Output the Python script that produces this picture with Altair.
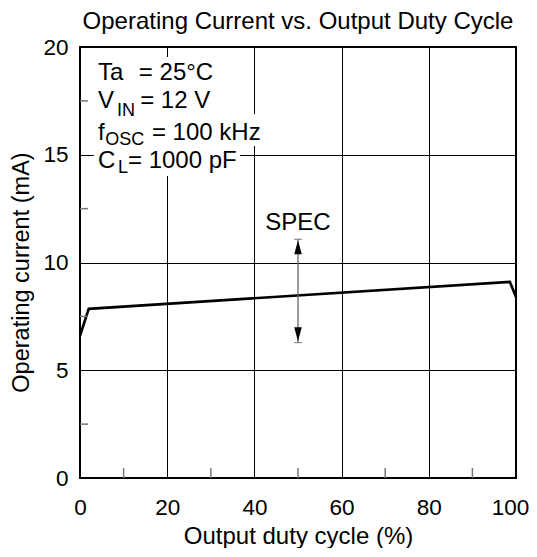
import altair as alt
import pandas as pd

# ---- data ----
duty = [0, 2, 98.6, 100]
current = [6.6, 7.85, 9.1, 8.4]

x_major = [0, 20, 40, 60, 80, 100]
y_major = [0, 5, 10, 15, 20]
x_minor = [10, 30, 50, 70, 90]
y_minor = [2.5, 7.5, 12.5, 17.5]

spec_x = 50
spec_low = 6.28
spec_high = 11.08
spec_arrow_y = [10.70, 6.67]
spec_label_y = 11.51

cond_text = ["Ta", "= 25°C", "V", "IN", "= 12 V", "f", "OSC", "= 100 kHz", "C", "L", "= 1000 pF"]
cond_x = [4.13, 13.5, 4.13, 8.5, 13.8, 4.13, 5.8, 16.5, 4.13, 8.7, 11.0]
cond_y = [18.47, 18.47, 17.18, 16.80, 17.18, 15.68, 15.45, 15.68, 14.39, 14.16, 14.39]
cond_size = [24, 24, 24, 18, 24, 24, 18, 24, 24, 18, 24]

bg_x = [3.2, 3.2, 3.2, 3.2]
bg_x2 = [31.7, 30.7, 41.7, 36.7]
bg_y = [19.54, 18.19, 16.89, 15.41]
bg_y2 = [18.19, 16.89, 15.41, 14.01]

FONT = "Liberation Sans"
W, H = 436, 431

xs = alt.Scale(domain=[0, 100], nice=False, zero=False)
ys = alt.Scale(domain=[0, 20], nice=False, zero=False)

df_line = pd.DataFrame({"duty": duty, "current": current})
df_cond = pd.DataFrame({"duty": cond_x, "current": cond_y, "t": cond_text, "s": cond_size})
df_bg = pd.DataFrame({"duty": bg_x, "x2": bg_x2, "current": bg_y, "y2": bg_y2})
df_xminor = pd.DataFrame({"duty": x_minor})
df_yminor = pd.DataFrame({"current": y_minor})
df_spec = pd.DataFrame({"duty": [spec_x], "current": [spec_low], "hi": [spec_high]})
df_caps = pd.DataFrame({"duty": [spec_x, spec_x], "current": [spec_high, spec_low]})
df_up = pd.DataFrame({"duty": [spec_x], "current": [spec_arrow_y[0]]})
df_down = pd.DataFrame({"duty": [spec_x], "current": [spec_arrow_y[1]]})
df_label = pd.DataFrame({"duty": [spec_x], "current": [spec_label_y], "t": ["SPEC"]})

x_axis = alt.Axis(values=x_major, grid=True, gridColor="#000", gridWidth=1, ticks=False,
                  domain=False, labelFontSize=22.5, labelFont=FONT, labelColor="#000",
                  labelPadding=18, labelFlush=False,
                  labelOffset={"expr": "datum.value == 100 ? -6 : 0"},
                  title="Output duty cycle (%)", titleFontSize=24,
                  titleFont=FONT, titleFontWeight="normal", titleColor="#000",
                  titleBaseline="alphabetic", titleY=65)
y_axis = alt.Axis(values=y_major, grid=True, gridColor="#000", gridWidth=1, ticks=False,
                  domain=False, labelFontSize=22.5, labelFont=FONT, labelColor="#000",
                  labelPadding=12, title="Operating current (mA)", titleFontSize=23.5,
                  titleFont=FONT, titleFontWeight="normal", titleColor="#000",
                  titleAngle=270, titleBaseline="alphabetic", titleAlign="center",
                  titleX=-52, titleY=225)


def X(field="duty"):
    return alt.X(f"{field}:Q", scale=xs, axis=x_axis)


def Y(field="current"):
    return alt.Y(f"{field}:Q", scale=ys, axis=y_axis)


line = alt.Chart(df_line).mark_line(color="#000", strokeWidth=2.6).encode(x=X(), y=Y())

bg = alt.Chart(df_bg).mark_rect(fill="white").encode(x=X(), x2="x2:Q", y=Y(), y2="y2:Q")

cond = alt.Chart(df_cond).mark_text(align="left", baseline="alphabetic", font=FONT, color="#000").encode(
    x=X(), y=Y(), text="t:N",
    size=alt.Size("s:Q", scale=None, legend=None),
)

xminor = alt.Chart(df_xminor).mark_rule(color="#777", strokeWidth=1.5).encode(
    x=X(), y=alt.value(H), y2=alt.value(H - 10),
)
yminor = alt.Chart(df_yminor).mark_rule(color="#777", strokeWidth=1.5).encode(
    y=Y(), x=alt.value(0), x2=alt.value(8),
)

spec_rule = alt.Chart(df_spec).mark_rule(color="#666", strokeWidth=1.3).encode(
    x=X(), y=Y(), y2="hi:Q",
)
caps = alt.Chart(df_caps).mark_tick(orient="horizontal", color="#444", size=8, thickness=1).encode(
    x=X(), y=Y(),
)
arrow_up = alt.Chart(df_up).mark_point(
    shape="M0,-1L0.55,1L-0.55,1Z", filled=True, color="#000", size=190, opacity=1, strokeWidth=0
).encode(x=X(), y=Y())
arrow_down = alt.Chart(df_down).mark_point(
    shape="M0,1L0.55,-1L-0.55,-1Z", filled=True, color="#000", size=190, opacity=1, strokeWidth=0
).encode(x=X(), y=Y())

spec_label = alt.Chart(df_label).mark_text(font=FONT, fontSize=24, color="#000",
                                           align="center", baseline="alphabetic").encode(
    x=X(), y=Y(), text="t:N",
)

chart = alt.layer(line, bg, cond, xminor, yminor, spec_rule, caps, arrow_up, arrow_down, spec_label).properties(
    width=W, height=H,
    title=alt.TitleParams("Operating Current vs. Output Duty Cycle", font=FONT, fontSize=24,
                          fontWeight="normal", color="#000", anchor="middle", offset=2),
    autosize=alt.AutoSizeParams(type="none"),
    padding={"left": 72, "top": 39, "right": 13, "bottom": 70},
    background="white",
).configure_view(stroke="#000", strokeWidth=2)

chart.save("out.html", embed_options={"renderer": "svg", "actions": False})
